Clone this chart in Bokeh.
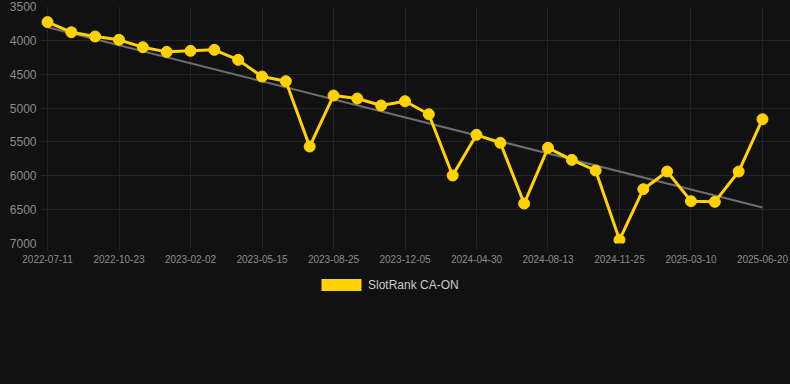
import numpy as np
from bokeh.plotting import figure
from bokeh.layouts import column
from bokeh.models import Range1d, FixedTicker, Legend, LegendItem, ColumnDataSource
from bokeh.embed import file_html
from bokeh.resources import INLINE

# ---- data ----
ranks = [3730, 3880, 3943, 3992, 4101, 4170, 4155, 4140, 4288, 4534, 4603,
         5568, 4815, 4859, 4962, 4899, 5091, 5996, 5395, 5513, 6410, 5587,
         5765, 5922, 6946, 6198, 5937, 6375, 6385, 5937, 5165]
tick_labels = ["2022-07-11", "2022-10-23", "2023-02-02", "2023-05-15",
               "2023-08-25", "2023-12-05", "2024-04-30", "2024-08-13",
               "2024-11-25", "2025-03-10", "2025-06-20"]
y_ticks = [3500, 4000, 4500, 5000, 5500, 6000, 6500, 7000]
series_name = "SlotRank CA-ON"

x = list(range(len(ranks)))
tick_pos = list(range(0, len(ranks), 3))

slope, intercept = np.polyfit(x, ranks, 1)
trend_x = [x[0], x[-1]]
trend_y = [intercept + slope * x[0], intercept + slope * x[-1]]

BG = "#111111"
GOLD = "#FFD200"
GRID = "#232323"

p = figure(width=790, height=270, output_backend="svg", toolbar_location=None,
           x_range=Range1d(-0.294, 31.175), y_range=Range1d(7000, 3500),
           min_border_left=40, min_border_right=0, min_border_top=6,
           min_border_bottom=27)
p.background_fill_color = BG
p.border_fill_color = BG
p.outline_line_color = None

# axes
p.xaxis.ticker = FixedTicker(ticks=tick_pos)
p.xaxis.major_label_overrides = {i: lab for i, lab in zip(tick_pos, tick_labels)}
p.xaxis.axis_line_color = None
p.xaxis.major_tick_line_color = GRID
p.xaxis.major_tick_in = 0
p.xaxis.major_tick_out = 7
p.xaxis.minor_tick_line_color = None
p.xaxis.major_label_standoff = 4
p.xaxis.major_label_text_font = "Liberation Sans"
p.xaxis.major_label_text_font_size = "10px"
p.xaxis.major_label_text_color = "#8c8c8c"

p.yaxis.ticker = FixedTicker(ticks=y_ticks)
p.yaxis.axis_line_color = None
p.yaxis.major_tick_line_color = None
p.yaxis.minor_tick_line_color = None
p.yaxis.major_tick_in = 0
p.yaxis.major_tick_out = 0
p.yaxis.major_label_standoff = 4
p.yaxis.major_label_text_font = "Liberation Sans"
p.yaxis.major_label_text_font_size = "12px"
p.yaxis.major_label_text_color = "#8c8c8c"

p.xgrid.grid_line_color = GRID
p.ygrid.grid_line_color = GRID

# trend line
p.line(trend_x, trend_y, line_color="#6e6e6e", line_width=2)

# series
src = ColumnDataSource(dict(x=x, y=ranks))
p.line("x", "y", source=src, line_color=GOLD, line_width=3)
p.scatter("x", "y", source=src, size=11, fill_color=GOLD, line_color=GOLD)

# ---- legend strip ----
lg = figure(width=790, height=114, output_backend="svg", toolbar_location=None,
            x_range=Range1d(0, 750), y_range=Range1d(0, 114),
            x_axis_location=None, y_axis_location=None,
            min_border_left=0, min_border_right=0, min_border_top=0,
            min_border_bottom=0)
lg.grid.visible = False
lg.background_fill_color = None
lg.border_fill_color = BG
lg.outline_line_color = None
sw = lg.quad(left=[-20], right=[-10], top=[-10], bottom=[-20],
             fill_color=GOLD, line_color=None)
legend = Legend(items=[LegendItem(label=series_name, renderers=[sw])],
                location=(276, 92), orientation="horizontal",
                glyph_width=50, glyph_height=15, label_height=15,
                label_standoff=2, padding=0, margin=0, spacing=0,
                label_text_font="Liberation Sans", label_text_font_size="12px",
                label_text_color="#cccccc", background_fill_alpha=0,
                border_line_color=None)
lg.add_layout(legend, "center")

layout = column(p, lg, spacing=0, styles={"background-color": BG})
open("out.html", "w").write(file_html(layout, INLINE))
